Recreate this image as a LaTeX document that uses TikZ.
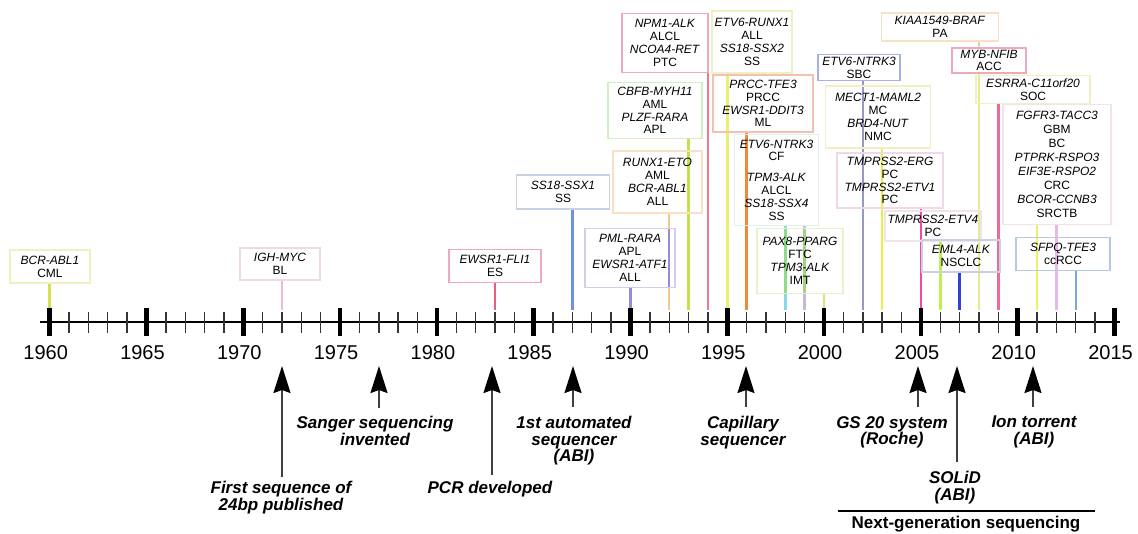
\documentclass[tikz,border=0pt]{standalone}
\usepackage{fontspec}
\setmainfont{Liberation Sans}
\usetikzlibrary{arrows.meta}
\pgfdeclarelayer{bg}
\pgfsetlayers{bg,main}
% connector colours
\definecolor{lA}{HTML}{D8E050}
\definecolor{lB}{HTML}{F0B8D8}
\definecolor{lC}{HTML}{E8607F}
\definecolor{lD}{HTML}{7090E0}
\definecolor{lE}{HTML}{9C88D8}
\definecolor{lF}{HTML}{F4C890}
\definecolor{lG}{HTML}{C8E048}
\definecolor{lH}{HTML}{F07890}
\definecolor{lI}{HTML}{E8F070}
\definecolor{lJ}{HTML}{F08838}
\definecolor{lK}{HTML}{88D8E8}
\definecolor{lL}{HTML}{C8B8D8}
\definecolor{lM}{HTML}{D0E880}
\definecolor{lN}{HTML}{9898C8}
\definecolor{lO}{HTML}{E8F048}
\definecolor{lP}{HTML}{F048A8}
\definecolor{lQ}{HTML}{C0F050}
\definecolor{lR}{HTML}{3040D8}
\definecolor{lS}{HTML}{E0D4B0}
\definecolor{lSy}{HTML}{E8E890}
\definecolor{lT}{HTML}{F06898}
\definecolor{lU}{HTML}{F0F068}
\definecolor{lV}{HTML}{E8B8E8}
\definecolor{lW}{HTML}{78A8D8}
\definecolor{lGreen}{HTML}{90E060}
% box border colours
\definecolor{bYel}{HTML}{F0F0C0}
\definecolor{bPinkL}{HTML}{F0D8E8}
\definecolor{bPink}{HTML}{F0A8BC}
\definecolor{bBlueG}{HTML}{C8D0E8}
\definecolor{bPurp}{HTML}{D4CCEC}
\definecolor{bPeach}{HTML}{F8E0C4}
\definecolor{bGreen}{HTML}{D0F0C0}
\definecolor{bSalmon}{HTML}{F4C0B0}
\definecolor{bCyan}{HTML}{E0F0F0}
\definecolor{bYG}{HTML}{E8F0D0}
\definecolor{bBlue}{HTML}{A8B0E8}
\definecolor{bFaint}{HTML}{F0E4E8}
\definecolor{bLB}{HTML}{B8C8E0}
\newcommand{\boxfont}{\fontsize{12}{12.8}\selectfont}
\newcommand{\seqfont}{\fontsize{17}{16.5}\selectfont\bfseries\itshape}
\tikzset{
  fbox/.style={draw=#1, line width=1.2pt, inner sep=0pt, align=center, font=\boxfont},
  conn/.style={line width=2.5pt},
  yearlab/.style={font=\fontsize{20}{22}\selectfont, inner sep=0pt},
  seqlab/.style={font=\seqfont, align=center, inner sep=0pt, anchor=north},
  seqarr/.style={line width=2pt, black!75, -{Stealth[length=27pt,width=17pt,inset=3pt,black]}},
  minortick/.style={line width=1.4pt, black!80},
  majortick/.style={line width=4.5pt, black},
}
\begin{document}
\begin{tikzpicture}[x=1pt,y=-1pt]
\useasboundingbox (0,0) rectangle (1138,533);
\begin{pgfonlayer}{bg}
\fill[white] (0,0) rectangle (1138,533);
\end{pgfonlayer}

% year coordinates on the axis (t) and at tick tops (c)
\foreach \yr in {1960,...,2015}{
  \coordinate (t\yr) at ({49.7+19.36*(\yr-1960)},322);
  \coordinate (c\yr) at ({49.7+19.36*(\yr-1960)},310);
}

% ---------- fusion boxes ----------
\node[fbox=bYel, minimum width=80, minimum height=33] (bcr) at (50,266.5) {\textit{BCR-ABL1}\\CML};
\node[fbox=bPinkL, minimum width=80, minimum height=32] (igh) at (280,264) {\textit{IGH-MYC}\\BL};
\node[fbox=bPink, minimum width=92, minimum height=33] (ews) at (495,266) {\textit{EWSR1-FLI1}\\ES};
\node[fbox=bBlueG, minimum width=93, minimum height=34] (ssx1) at (563,192) {\textit{SS18-SSX1}\\SS};
\node[fbox=bPurp, minimum width=90, minimum height=59] (pml) at (630,258) {\textit{PML-RARA}\\APL\\\textit{EWSR1-ATF1}\\ALL};
\node[fbox=bPeach, minimum width=89, minimum height=62] (runx) at (657.5,182) {\textit{RUNX1-ETO}\\AML\\\textit{BCR-ABL1}\\ALL};
\node[fbox=bGreen, minimum width=94, minimum height=56] (cbfb) at (655,110.5) {\textit{CBFB-MYH11}\\AML\\\textit{PLZF-RARA}\\APL};
\node[fbox=bPink, minimum width=86, minimum height=59] (npm) at (665,43) {\textit{NPM1-ALK}\\ALCL\\\textit{NCOA4-RET}\\PTC};
\node[fbox=bYel, minimum width=80, minimum height=62] (etvr) at (752,42) {\textit{ETV6-RUNX1}\\ALL\\\textit{SS18-SSX2}\\SS};
\node[fbox=bSalmon, minimum width=100, minimum height=57] (prcc) at (763,103.5) {\textit{PRCC-TFE3}\\PRCC\\\textit{EWSR1-DDIT3}\\ML};
\node[fbox=bCyan, minimum width=84, minimum height=91] (tpm) at (776.5,180) {\textit{ETV6-NTRK3}\\CF\\[8pt]\textit{TPM3-ALK}\\ALCL\\\textit{SS18-SSX4}\\SS};
\node[fbox=bYG, minimum width=86, minimum height=65] (pax) at (800,261) {\textit{PAX8-PPARG}\\FTC\\\textit{TPM3-ALK}\\IMT};
\node[fbox=bBlue, minimum width=82, minimum height=26] (sbc) at (859,67.5) {\textit{ETV6-NTRK3}\\SBC};
\node[fbox=bYel, minimum width=105, minimum height=62] (mect) at (878,117) {\textit{MECT1-MAML2}\\MC\\\textit{BRD4-NUT}\\NMC};
\node[fbox=bPinkL, minimum width=106, minimum height=55] (erg) at (890,180.5) {\textit{TMPRSS2-ERG}\\PC\\\textit{TMPRSS2-ETV1}\\PC};
\node[fbox=bFaint, minimum width=96, minimum height=30] (etv4) at (933,226) {\textit{TMPRSS2-ETV4}\\PC};
\node[fbox=bBlueG, minimum width=78, minimum height=32] (eml) at (961,256) {\textit{EML4-ALK}\\NSCLC};
\node[fbox=bPeach, minimum width=117, minimum height=28] (kiaa) at (940,27) {\textit{KIAA1549-BRAF}\\PA};
\node[fbox=bPink, minimum width=74, minimum height=25] (myb) at (989,60.5) {\textit{MYB-NFIB}\\ACC};
\node[fbox=bYel, minimum width=114, minimum height=28] (esrra) at (1033,89.5) {\textit{ESRRA-C11orf20}\\SOC};
\node[fbox=bFaint, minimum width=108, minimum height=120, font=\fontsize{12}{13.9}\selectfont] (fgfr) at (1057,164.5) {\textit{FGFR3-TACC3}\\GBM\\BC\\\textit{PTPRK-RSPO3}\\\textit{EIF3E-RSPO2}\\CRC\\\textit{BCOR-CCNB3}\\SRCTB};
\node[fbox=bLB, minimum width=94, minimum height=33] (sfpq) at (1063,254) {\textit{SFPQ-TFE3}\\ccRCC};

% ---------- connectors (box to axis), behind the texts ----------
\begin{pgfonlayer}{bg}
\draw[conn,lA] (bcr.south -| c1960) -- (c1960);
\draw[conn,lB] (igh.south -| c1972) -- (c1972);
\draw[conn,lC] (ews.south -| c1983) -- (c1983);
\draw[conn,lD] (ssx1.south -| c1987) -- (c1987);
\draw[conn,lE] (pml.south -| c1990) -- (c1990);
\draw[conn,lF] (runx.south -| c1992) -- (c1992);
\draw[conn,lE] (pml.north -| c1992) -- (pml.south -| c1992);
\draw[conn,lG] (cbfb.south -| c1993) -- (c1993);
\draw[conn,lH] (npm.south -| c1994) -- (c1994);
\draw[conn,lI] (etvr.south -| c1995) -- (c1995);
\draw[conn,lJ] (prcc.south -| c1996) -- (c1996);
\draw[conn,lK] (tpm.south -| c1998) -- (c1998);
\draw[conn,lL] (tpm.south -| c1999) -- (c1999);
\draw[conn,lGreen,opacity=0.7] (pax.north -| c1998) -- (pax.south -| c1998);
\draw[conn,lGreen,opacity=0.7] (pax.north -| c1999) -- (pax.south -| c1999);
\draw[conn,lM] (pax.south -| c2000) -- (c2000);
\draw[conn,lN] (sbc.south -| c2002) -- (c2002);
\draw[conn,lO] (mect.south -| c2003) -- (c2003);
\draw[conn,lP] (erg.south -| c2005) -- (c2005);
\draw[conn,lQ] (etv4.south -| c2006) -- (c2006);
\draw[conn,lR] (eml.south -| c2007) -- (c2007);
\draw[conn,lS] (kiaa.south -| c2008) -- (myb.north -| c2008);
\draw[conn,lSy] (myb.south -| c2008) -- (c2008);
\draw[conn,lT] (esrra.south -| c2009) -- (c2009);
\draw[conn,lU] (fgfr.south -| c2011) -- (c2011);
\draw[conn,lV] (fgfr.south -| c2012) -- (c2012);
\draw[conn,lW] (sfpq.south -| c2013) -- (c2013);
\end{pgfonlayer}

% ---------- axis ----------
\coordinate (axL) at (40,322);
\coordinate (axR) at (1120,322);
\draw[line width=1.5pt] (axL) -- (axR);
\foreach \yr in {1960,...,2015}{
  \draw[minortick] ([yshift=10pt]t\yr) -- ([yshift=-11pt]t\yr);
}
\foreach \yr in {1960,1965,...,2015}{
  \draw[majortick] ([yshift=14pt]t\yr) -- ([yshift=-14pt]t\yr);
  \node[yearlab] (y\yr) at ([xshift=-4pt,yshift=-31pt]t\yr) {\yr};
}

% ---------- sequencing milestones ----------
\node[seqlab] (s1972) at (281,481) {First sequence of\\24bp published};
\node[seqlab] (s1977) at (375,416) {Sanger sequencing\\invented};
\node[seqlab] (s1983) at (490,481) {PCR developed};
\node[seqlab] (s1987) at (574,416) {1st automated\\sequencer\\(ABI)};
\node[seqlab] (s1996) at (743,416) {Capillary\\sequencer};
\node[seqlab] (s2005) at (892,416) {GS 20 system\\(Roche)};
\node[seqlab] (s2007) at (955,471) {SOLiD\\(ABI)};
\node[seqlab] (s2011) at (1034,416) {Ion torrent\\(ABI)};

\coordinate (a1972t) at (282,366);  \coordinate (a1972b) at (282,477);
\coordinate (a1977t) at (379,366);  \coordinate (a1977b) at (379,408);
\coordinate (a1983t) at (492,366);  \coordinate (a1983b) at (492,475);
\coordinate (a1987t) at (573,366);  \coordinate (a1987b) at (573,407);
\coordinate (a1996t) at (746,366);  \coordinate (a1996b) at (746,407);
\coordinate (a2005t) at (918,366);  \coordinate (a2005b) at (918,407);
\coordinate (a2007t) at (957,366);  \coordinate (a2007b) at (957,462);
\coordinate (a2011t) at (1033,366); \coordinate (a2011b) at (1033,407);
\foreach \k in {1972,1977,1983,1987,1996,2005,2007,2011}{
  \draw[seqarr] (a\k b) -- (a\k t);
}

% ---------- next-generation bracket ----------
\coordinate (ngL) at (838,511);
\coordinate (ngR) at (1095,511);
\draw[line width=1.8pt] (ngL) -- (ngR);
\node[font=\fontsize{17}{18}\selectfont\bfseries, inner sep=0pt] (ngs) at (966,524) {Next-generation sequencing};
\end{tikzpicture}
\end{document}
